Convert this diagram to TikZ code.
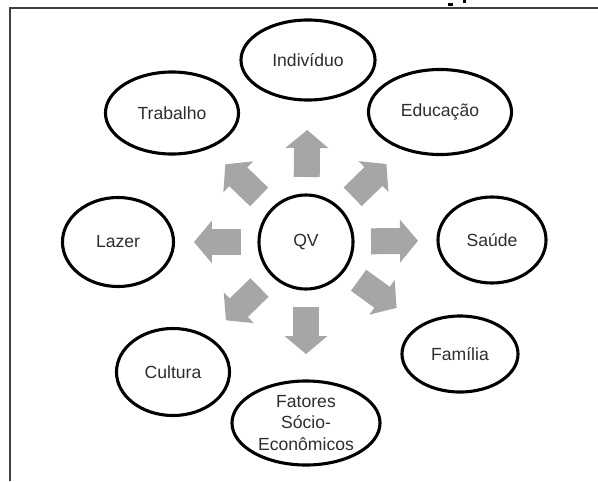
\documentclass[tikz,border=0pt]{standalone}
\usepackage{fontspec}
\setmainfont{Liberation Sans}
\usetikzlibrary{shapes.geometric,arrows.meta,calc}
\definecolor{setagris}{RGB}{166,166,166}
\definecolor{textogris}{RGB}{45,45,45}
\tikzset{
  bolha/.style={ellipse, draw=black, line width=2.2pt, inner sep=0pt,
                text=textogris, font=\fontsize{12.5}{15.5}\selectfont, align=center},
  seta/.style={draw=setagris, line width=0.65cm,
               -{Triangle[length=0.45cm,width=1.05cm]}},
}

\begin{document}
\begin{tikzpicture}[x=0.025cm,y=-0.025cm]
   \useasboundingbox (0,0) rectangle (598,481);
   % moldura
   \draw[line width=1.2pt, black!75] (10,481) -- (10,8) -- (598,8);
   \fill (448,3) rectangle (453,6);
   \fill (463,0) rectangle (466,3);
   % centro
   \node[bolha, circle, minimum size=2.35cm] (qv) at (306,242) {QV};
   % fatores
   \node[bolha, minimum width=3.35cm,  minimum height=2.0cm]   (ind) at (308,60)  {Indivíduo};
   \node[bolha, minimum width=3.325cm, minimum height=2.05cm]  (tra) at (172,113) {Trabalho};
   \node[bolha, minimum width=3.575cm, minimum height=2.125cm] (edu) at (440,112) {Educação};
   \node[bolha, minimum width=2.775cm, minimum height=2.225cm] (laz) at (118,242) {Lazer};
   \node[bolha, minimum width=2.7cm,   minimum height=2.15cm]  (sau) at (492,240) {Saúde};
   \node[bolha, minimum width=2.825cm, minimum height=2.175cm] (cul) at (173,372) {Cultura};
   \node[bolha, minimum width=2.9cm,   minimum height=1.9cm]   (fam) at (460,354) {Família};
   \node[bolha, minimum width=3.7cm,   minimum height=2.1cm]   (fat) at (306,423) {Fatores\\Sócio-\\Econômicos};
   % setas
   \foreach \t in {ind,edu,sau,fam,fat,cul,laz,tra}
     \draw[seta] ($(qv)!1.625cm!(\t)$) -- ($(qv)!2.8cm!(\t)$);
\end{tikzpicture}
\end{document}
